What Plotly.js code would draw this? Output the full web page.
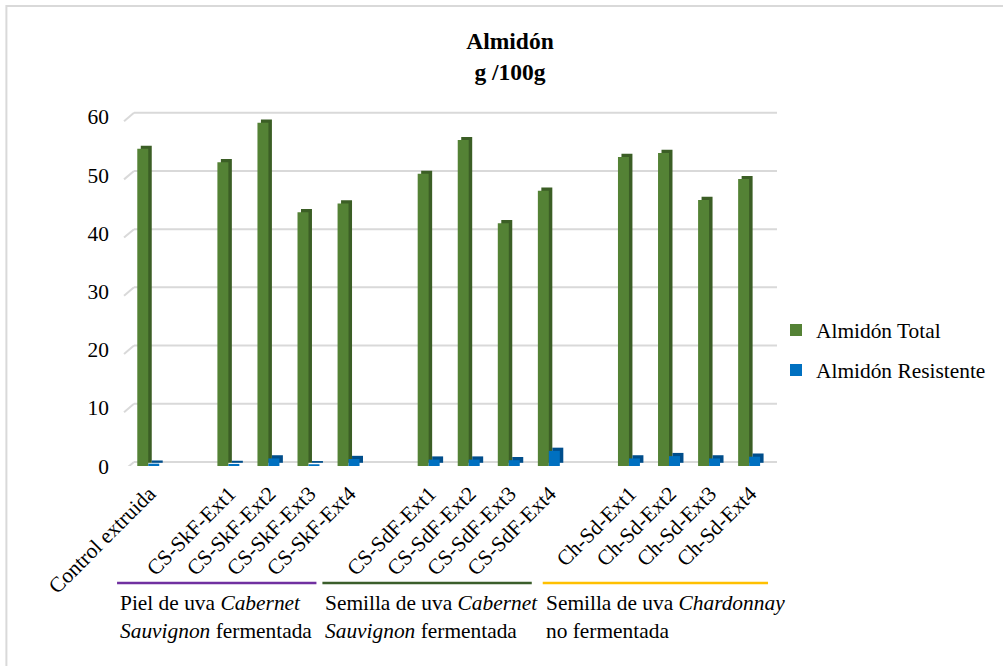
<!DOCTYPE html>
<html>
<head>
<meta charset="utf-8">
<script src="https://cdn.plot.ly/plotly-3.0.1.min.js"></script>
<style>
  html, body { margin: 0; padding: 0; background: #ffffff; }
  #chart { width: 1003px; height: 666px; }
</style>
</head>
<body>
<div id="chart"></div>
<script>
// Starch content (g / 100 g) of the extruded control and the grape by-product extrudates
const categories = [
  "Control extruida",
  "CS-SkF-Ext1", "CS-SkF-Ext2", "CS-SkF-Ext3", "CS-SkF-Ext4",
  "CS-SdF-Ext1", "CS-SdF-Ext2", "CS-SdF-Ext3", "CS-SdF-Ext4",
  "Ch-Sd-Ext1", "Ch-Sd-Ext2", "Ch-Sd-Ext3", "Ch-Sd-Ext4"
];
// number of samples in each block: control, then the three by-product sources
const groupSizes = [1, 4, 4, 4];
const groupLabels = [
  "Piel de uva <i>Cabernet</i><br><i>Sauvignon</i> fermentada",
  "Semilla de uva <i>Cabernet</i><br><i>Sauvignon</i> fermentada",
  "Semilla de uva <i>Chardonnay</i><br>no fermentada"
];
const seriesNames = ["Almidón Total", "Almidón Resistente"];
const totalStarch = [54.5, 52.2, 59.0, 43.6, 45.1, 50.2, 56.0, 41.7, 47.3, 53.1, 53.8, 45.7, 49.3];
const resistantStarch = [0.4, 0.35, 1.3, 0.3, 1.2, 1.1, 1.1, 1.0, 2.6, 1.3, 1.7, 1.3, 1.6];
const yTicks = [0, 10, 20, 30, 40, 50, 60];

// slot positions: one empty slot between consecutive blocks
const xPos = [];
let slot = 0;
groupSizes.forEach(n => {
  for (let i = 0; i < n; i++) xPos.push(slot++);
  slot++;
});

const FONT = 'Liberation Serif';
const TXT = 21.4;
const GREEN = '#548235', GREEN_DARK = '#3B5E25';
const BLUE = '#0070C0', BLUE_DARK = '#004E8C';
const DEPTH = 0.55;        // vertical lift of the rear faces (axis units)
const FACE = 0.274;        // front face width (slot units)
const SIDE = 0.087;        // side face width (slot units)

// plot box in pixels, used to place the decorations below the axis
const L = 134, R = 779, T = 111, B = 466;
const px2x = p => (p - L) / (R - L);
const px2y = p => (B - p) / (B - T);

function prism(values, name, front, back, offset, legend) {
  return [
    { type: 'bar', x: xPos, y: values, base: DEPTH, offset: offset + SIDE, width: FACE,
      marker: { color: back, line: { width: 0 } }, showlegend: false, hoverinfo: 'skip' },
    { type: 'bar', x: xPos, y: values, offset: offset, width: FACE, name: name,
      marker: { color: front, line: { width: 0 } }, legend: legend, hoverinfo: 'skip' }
  ];
}

const traces = [
  ...prism(totalStarch, seriesNames[0], GREEN, GREEN_DARK, -0.3, 'legend'),
  ...prism(resistantStarch, seriesNames[1], BLUE, BLUE_DARK, -0.3 + FACE, 'legend2')
];

const shapes = [];
// back-wall gridlines with their short slanted floor edge
yTicks.forEach(v => {
  shapes.push({ type: 'line', layer: 'below', xref: 'paper', yref: 'y',
    x0: 0, x1: 1, y0: v + 0.7, y1: v + 0.7, line: { color: '#D9D9D9', width: 2 } });
  shapes.push({ type: 'line', layer: 'below', xref: 'paper', yref: 'y',
    x0: px2x(124), x1: 0, y0: v - 0.75, y1: v + 0.7, line: { color: '#D9D9D9', width: 2 } });
});
// chart frame
shapes.push({ type: 'rect', xref: 'paper', yref: 'paper',
  x0: px2x(6), x1: px2x(1030), y0: px2y(6), y1: px2y(700),
  line: { color: '#D9D9D9', width: 2 }, fillcolor: 'rgba(0,0,0,0)' });

// brackets under the three by-product blocks
const bracketColors = ['#7030A0', '#3B5E2B', '#FFC000'];
const bracketSpans = [[117, 317], [323, 533], [544, 770]];
const annotations = [];
groupLabels.forEach((txt, i) => {
  const [a, b] = bracketSpans[i];
  shapes.push({ type: 'line', xref: 'paper', yref: 'paper',
    x0: px2x(a), x1: px2x(b), y0: px2y(583), y1: px2y(583),
    line: { color: bracketColors[i], width: 2.5 } });
  annotations.push({ xref: 'paper', yref: 'paper', x: px2x(a + 1), y: px2y(589),
    xanchor: 'left', yanchor: 'top', align: 'left', showarrow: false, text: txt,
    font: { family: FONT, size: TXT, color: '#000000' } });
});

const layout = {
  width: 1003, height: 666,
  margin: { l: L, r: 1003 - R, t: T, b: 666 - B },
  paper_bgcolor: '#ffffff', plot_bgcolor: 'rgba(0,0,0,0)',
  font: { family: FONT, size: TXT, color: '#000000' },
  title: { text: 'Almidón<br>g /100g', x: 510 / 1003, xanchor: 'center',
    xref: 'container', y: 1 - 49 / 666, yref: 'container', yanchor: 'top',
    font: { family: FONT, size: 23.5, weight: 'bold', color: '#000000' } },
  barmode: 'overlay',
  xaxis: { range: [-0.382, 15.67], tickvals: xPos, ticktext: categories, tickangle: -45,
    showgrid: false, zeroline: false, showline: false, ticks: '', ticklabelstandoff: 10,
    tickfont: { family: FONT, size: TXT, color: '#000000' }, fixedrange: true },
  yaxis: { range: [0, 61], tickvals: yTicks, showgrid: false, zeroline: false,
    showline: false, ticks: '', ticklabelstandoff: 24,
    tickfont: { family: FONT, size: TXT, color: '#000000' }, fixedrange: true },
  legend: { x: px2x(778), y: px2y(330), xanchor: 'left', yanchor: 'middle',
    font: { family: FONT, size: TXT, color: '#000000' }, bgcolor: 'rgba(0,0,0,0)' },
  legend2: { x: px2x(778), y: px2y(370), xanchor: 'left', yanchor: 'middle',
    font: { family: FONT, size: TXT, color: '#000000' }, bgcolor: 'rgba(0,0,0,0)' },
  shapes: shapes,
  annotations: annotations,
  showlegend: true
};

Plotly.newPlot('chart', traces, layout, { staticPlot: true });
</script>
</body>
</html>
